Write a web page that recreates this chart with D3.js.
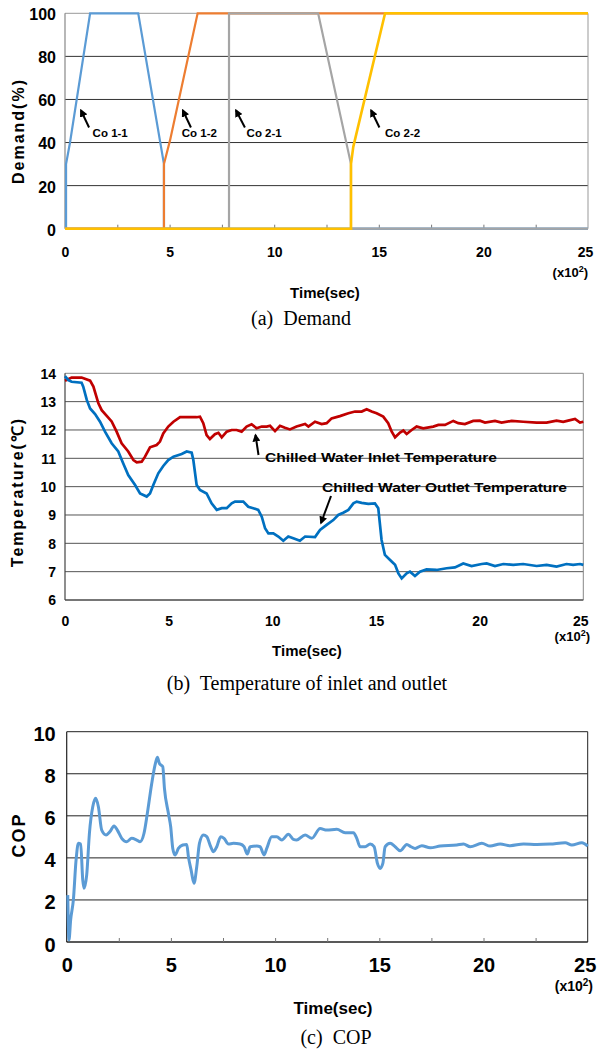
<!DOCTYPE html>
<html>
<head>
<meta charset="utf-8">
<script src="https://cdn.jsdelivr.net/npm/d3@7"></script>
<style>
body { margin: 0; background: #fff; }
.lbl { font-family: "Liberation Sans", Arial, sans-serif; font-weight: bold; fill: #000; }
.cap { font-family: "Liberation Serif", "Times New Roman", serif; fill: #000; white-space: pre; }
</style>
</head>
<body>
<div id="vis"></div>
<script>
// tick values
var timeTicks = [0, 5, 10, 15, 20, 25];
var minorTicks = [2.5, 5, 7.5, 10, 12.5, 15, 17.5, 20, 22.5];
var demandTicks = [0, 20, 40, 60, 80, 100];
var tempTicks = [6, 7, 8, 9, 10, 11, 12, 13, 14];
var copTicks = [0, 2, 4, 6, 8, 10];

// (a) demand, [time x100 s, %]
var co11 = [[0,0],[0.05,0],[0.05,30],[0.24,40],[1.2,100],[3.5,100],[4.73,30],[4.73,0],[25,0]];
var co12 = [[0,0],[4.73,0],[4.73,30],[5.02,41],[6.34,100],[25,100]];
var co21 = [[0,0],[7.84,0],[7.84,100],[12.1,100],[13.67,30],[13.67,0],[25,0]];
var co22 = [[0,0],[13.67,0],[13.67,30],[13.78,38],[15.3,100],[25,100]];
// label, arrow tail t, arrow head t, text t
var coNotes = [["Co 1-1", 1.15, 0.76, 1.32], ["Co 1-2", 6.02, 5.63, 5.58], ["Co 2-1", 8.6, 8.17, 8.68], ["Co 2-2", 15.03, 14.63, 15.3]];

// (b) temperatures, [time x100 s, degC]
var inletTemp = [[0,13.74],[0.32,13.85],[0.8,13.85],[1.21,13.74],[1.37,13.53],[1.61,12.94],[1.77,12.7],[2.25,12.3],[2.49,11.94],[2.73,11.53],[3.05,11.24],[3.3,10.94],[3.46,10.86],[3.7,10.88],[3.86,11.06],[4.1,11.39],[4.42,11.47],[4.58,11.59],[4.74,11.88],[4.98,12.12],[5.23,12.29],[5.55,12.45],[6.35,12.45],[6.51,12.47],[6.67,12.24],[6.83,11.82],[6.99,11.68],[7.23,11.85],[7.4,11.9],[7.56,11.74],[7.8,11.94],[8.04,12.0],[8.28,12.0],[8.52,11.94],[8.76,12.12],[9.0,12.2],[9.24,12.06],[9.49,12.12],[9.73,12.12],[9.89,12.15],[10.13,11.96],[10.37,12.15],[10.61,12.08],[10.85,12.02],[11.17,12.12],[11.58,12.21],[11.74,12.12],[12.06,12.29],[12.38,12.21],[12.62,12.24],[12.86,12.41],[13.26,12.49],[13.67,12.59],[13.99,12.65],[14.31,12.65],[14.55,12.73],[14.79,12.65],[15.03,12.59],[15.35,12.47],[15.59,12.24],[15.76,11.94],[15.92,11.74],[16.16,11.91],[16.32,11.98],[16.48,11.86],[16.72,12.0],[16.96,12.12],[17.28,12.06],[17.76,12.12],[18.01,12.18],[18.33,12.18],[18.73,12.32],[18.97,12.24],[19.29,12.21],[19.69,12.32],[20.01,12.33],[20.26,12.26],[20.74,12.32],[21.06,12.26],[21.54,12.32],[22.1,12.29],[22.75,12.26],[23.23,12.26],[23.71,12.33],[24.03,12.29],[24.27,12.33],[24.6,12.39],[24.84,12.26],[25,12.29]];
var outletTemp = [[0,13.9],[0.16,13.76],[0.32,13.7],[0.8,13.67],[0.88,13.53],[1.05,13.06],[1.21,12.76],[1.45,12.56],[1.69,12.29],[1.93,11.94],[2.25,11.53],[2.57,11.24],[2.81,10.82],[3.05,10.41],[3.38,10.06],[3.62,9.76],[3.94,9.65],[4.1,9.76],[4.26,10.06],[4.5,10.47],[4.74,10.73],[4.98,10.94],[5.23,11.06],[5.63,11.15],[5.87,11.24],[6.11,11.2],[6.19,10.94],[6.35,10.06],[6.51,9.88],[6.83,9.76],[7.07,9.41],[7.32,9.18],[7.56,9.24],[7.8,9.24],[8.04,9.41],[8.2,9.47],[8.6,9.47],[8.84,9.29],[9.08,9.24],[9.32,9.18],[9.49,8.94],[9.65,8.53],[9.81,8.35],[10.05,8.35],[10.29,8.24],[10.53,8.09],[10.77,8.24],[11.01,8.18],[11.33,8.09],[11.58,8.24],[12.06,8.22],[12.3,8.47],[12.62,8.65],[12.94,8.82],[13.18,9.0],[13.42,9.08],[13.67,9.18],[13.91,9.41],[14.07,9.47],[14.31,9.43],[14.63,9.39],[14.95,9.41],[15.11,9.24],[15.27,8.12],[15.43,7.59],[15.68,7.41],[15.92,7.24],[16.08,6.94],[16.24,6.76],[16.48,6.94],[16.64,7.0],[16.88,6.85],[17.12,7.0],[17.44,7.08],[17.92,7.06],[18.41,7.12],[18.81,7.15],[19.21,7.29],[19.61,7.2],[20.1,7.27],[20.34,7.29],[20.74,7.2],[21.14,7.27],[21.62,7.24],[22.1,7.27],[22.75,7.2],[23.23,7.24],[23.71,7.18],[24.19,7.27],[24.51,7.24],[24.84,7.27],[25,7.24]];

// (c) COP, [time x100 s, COP]
var cop = [[0.05,2.23],[0.11,0.1],[0.19,1.05],[0.32,2.0],[0.45,3.9],[0.56,4.69],[0.67,4.66],[0.77,2.95],[0.83,2.55],[0.96,3.19],[1.09,5.17],[1.25,6.43],[1.39,6.83],[1.52,6.43],[1.68,5.32],[1.89,5.09],[2.08,5.25],[2.27,5.52],[2.43,5.32],[2.64,4.93],[2.88,4.77],[3.12,4.93],[3.36,4.85],[3.52,4.77],[3.71,5.17],[3.87,6.12],[4.08,7.54],[4.24,8.42],[4.35,8.78],[4.45,8.49],[4.61,8.34],[4.69,7.31],[4.88,6.12],[4.99,5.48],[5.09,4.45],[5.2,4.14],[5.36,4.45],[5.57,4.61],[5.76,4.64],[5.84,4.06],[5.97,3.42],[6.11,2.79],[6.24,3.58],[6.37,4.69],[6.56,5.09],[6.72,5.01],[6.91,4.53],[7.04,4.29],[7.2,4.53],[7.39,5.01],[7.55,4.93],[7.76,4.66],[8.0,4.69],[8.32,4.66],[8.51,4.53],[8.67,4.18],[8.8,4.53],[9.12,4.56],[9.28,4.53],[9.47,4.14],[9.6,4.45],[9.84,5.01],[10.08,5.01],[10.32,4.85],[10.64,5.12],[10.88,4.88],[11.04,4.85],[11.44,5.09],[11.76,4.93],[12.16,5.4],[12.48,5.32],[12.96,5.36],[13.36,5.2],[13.76,5.2],[13.92,4.93],[14.08,4.53],[14.32,4.53],[14.56,4.66],[14.75,4.53],[14.91,3.74],[15.04,3.5],[15.17,3.74],[15.28,4.53],[15.52,4.69],[15.76,4.53],[16.0,4.34],[16.32,4.64],[16.52,4.53],[16.72,4.45],[17.04,4.58],[17.44,4.48],[17.92,4.56],[18.72,4.61],[19.04,4.66],[19.36,4.53],[19.92,4.69],[20.32,4.56],[20.8,4.66],[21.28,4.58],[21.92,4.66],[22.56,4.64],[23.2,4.66],[23.92,4.72],[24.24,4.61],[24.72,4.72],[25,4.56]];

var svg = d3.select("#vis").append("svg")
    .attr("width", 597)
    .attr("height", 1056);

svg.append("defs").append("marker")
    .attr("id", "head")
    .attr("viewBox", "0 0 10 10")
    .attr("refX", 8).attr("refY", 5)
    .attr("markerWidth", 4).attr("markerHeight", 4)
    .attr("orient", "auto")
    .append("path")
    .attr("d", "M0,0L10,5L0,10z")
    .attr("fill", "#000");

// shared panel frame: grid, axes, labels
function frame(p) {
    var x = d3.scaleLinear().domain([0, 25]).range([p.left, p.right]);
    var y = d3.scaleLinear().domain(p.yDomain).range([p.bottom, p.top]);
    var g = svg.append("g");

    // gridlines
    g.selectAll(".grid").data(p.yTicks).enter().append("line")
        .attr("x1", p.left).attr("x2", p.right)
        .attr("y1", function(d) { return y(d); })
        .attr("y2", function(d) { return y(d); })
        .attr("stroke", function(d) { return d == p.yDomain[1] ? p.topColor : p.gridColor; })
        .attr("stroke-width", 1);

    // borders
    g.append("line").attr("x1", p.right).attr("x2", p.right)
        .attr("y1", p.top).attr("y2", p.bottom)
        .attr("stroke", p.topColor);
    g.append("line").attr("x1", p.left).attr("x2", p.left)
        .attr("y1", p.top).attr("y2", p.bottom)
        .attr("stroke", p.axisColor).attr("stroke-width", 1.2);
    g.append("line").attr("x1", p.left).attr("x2", p.right)
        .attr("y1", p.bottom).attr("y2", p.bottom)
        .attr("stroke", p.axisColor).attr("stroke-width", 1.2);

    if (p.minor) {
        var mt = g.append("g")
            .attr("transform", "translate(0," + p.bottom + ")")
            .call(d3.axisBottom(x).tickValues(minorTicks).tickSize(-4).tickFormat(""));
        mt.select(".domain").remove();
        mt.selectAll("line").attr("stroke", "#777");
    }

    var ya = g.append("g")
        .attr("transform", "translate(" + p.left + ",0)")
        .call(d3.axisLeft(y).tickValues(p.yTicks).tickSize(0).tickPadding(p.yPad));
    ya.select(".domain").remove();
    ya.selectAll("text").attr("class", "lbl")
        .attr("font-family", null)
        .attr("dy", p.yDy)
        .style("font-size", p.yFont + "px");

    var xa = g.append("g")
        .attr("transform", "translate(0," + p.bottom + ")")
        .call(d3.axisBottom(x).tickValues(timeTicks).tickSize(0).tickPadding(p.xPad));
    xa.select(".domain").remove();
    xa.selectAll("text").attr("class", "lbl")
        .attr("font-family", null)
        .attr("dx", function(d) { return d == 25 ? -3 : 0; })
        .style("font-size", p.xFont + "px");

    var unit = g.append("text").attr("class", "lbl")
        .attr("x", p.unitX).attr("y", p.unitY)
        .attr("text-anchor", "end")
        .style("font-size", p.unitFont + "px");
    unit.append("tspan").text("(x10");
    unit.append("tspan").attr("dy", -5).style("font-size", (p.unitFont - 4) + "px").text("2");
    unit.append("tspan").attr("dy", 5).text(")");

    g.append("text").attr("class", "lbl")
        .attr("x", p.titleX).attr("y", p.titleY)
        .attr("text-anchor", "middle")
        .style("font-size", p.titleFont + "px")
        .text("Time(sec)");

    g.append("text").attr("class", "lbl")
        .attr("transform", "translate(" + p.yLabX + "," + p.yLabY + ") rotate(-90)")
        .attr("text-anchor", "middle")
        .style("font-size", p.yLabFont + "px")
        .style("letter-spacing", "2px")
        .text(p.yLabel);

    g.append("text").attr("class", "cap")
        .attr("x", p.capX).attr("y", p.capY)
        .attr("text-anchor", "middle")
        .style("font-size", "20px")
        .text(p.caption);

    return {x: x, y: y, g: g};
}

function arrow(g, x1, y1, x2, y2) {
    g.append("line")
        .attr("x1", x1).attr("y1", y1).attr("x2", x2).attr("y2", y2)
        .attr("stroke", "#000").attr("stroke-width", 2)
        .attr("marker-end", "url(#head)");
}

// ---- (a) Demand ----
var pa = frame({
    left: 65, right: 588, top: 13.3, bottom: 228.7,
    yDomain: [0, 100], yTicks: demandTicks,
    gridColor: "#333", topColor: "#999", axisColor: "#888", minor: true,
    yPad: 9, yFont: 16, yDy: "0.4em", xPad: 18, xFont: 14,
    unitX: 588, unitY: 277, unitFont: 13, titleX: 325, titleY: 298, titleFont: 15,
    yLabel: "Demand(%)", yLabX: 24, yLabY: 131, yLabFont: 16,
    caption: "(a)  Demand", capX: 301, capY: 325
});
var lineA = d3.line()
    .x(function(d) { return pa.x(d[0]); })
    .y(function(d) { return pa.y(d[1]); });
[[co11, "#5B9BD5"], [co12, "#ED7D31"], [co21, "#A5A5A5"], [co22, "#FFC000"]].forEach(function(s) {
    pa.g.append("path")
        .datum(s[0])
        .attr("fill", "none")
        .attr("stroke", s[1])
        .attr("stroke-width", s[1] == "#FFC000" ? 2.6 : 2.2)
        .attr("d", lineA);
});
coNotes.forEach(function(n) {
    arrow(pa.g, pa.x(n[1]), pa.y(47), pa.x(n[2]), pa.y(55));
    pa.g.append("text").attr("class", "lbl")
        .attr("x", pa.x(n[3])).attr("y", pa.y(42.5))
        .style("font-size", "11.5px")
        .text(n[0]);
});

// ---- (b) Temperature ----
var pb = frame({
    left: 65, right: 583.3, top: 373.3, bottom: 600,
    yDomain: [6, 14], yTicks: tempTicks,
    gridColor: "#555", topColor: "#888", axisColor: "#444", minor: false,
    yPad: 9, yFont: 14, yDy: "0.35em", xPad: 16, xFont: 14,
    unitX: 590, unitY: 641, unitFont: 13, titleX: 307, titleY: 656, titleFont: 15,
    yLabel: "Temperature(\u2103)", yLabX: 23, yLabY: 492, yLabFont: 16,
    caption: "(b)  Temperature of inlet and outlet", capX: 307, capY: 690
});
var lineB = d3.line()
    .x(function(d) { return pb.x(d[0]); })
    .y(function(d) { return pb.y(d[1]); });
pb.g.append("text").attr("class", "lbl")
    .attr("x", 265).attr("y", 462)
    .attr("textLength", 232).attr("lengthAdjust", "spacingAndGlyphs")
    .style("font-size", "13px")
    .text("Chilled Water Inlet Temperature");
pb.g.append("text").attr("class", "lbl")
    .attr("x", 322).attr("y", 492)
    .attr("textLength", 245).attr("lengthAdjust", "spacingAndGlyphs")
    .style("font-size", "13px")
    .text("Chilled Water Outlet Temperature");
arrow(pb.g, 258.5, 455, 255.5, 435);
arrow(pb.g, 331, 496, 321, 523);
pb.g.append("path").datum(inletTemp)
    .attr("fill", "none").attr("stroke", "#C00000").attr("stroke-width", 2.7)
    .attr("d", lineB);
pb.g.append("path").datum(outletTemp)
    .attr("fill", "none").attr("stroke", "#0070C0").attr("stroke-width", 2.7)
    .attr("d", lineB);

// ---- (c) COP ----
var pc = frame({
    left: 66.7, right: 587.7, top: 731.7, bottom: 942,
    yDomain: [0, 10], yTicks: copTicks,
    gridColor: "#222", topColor: "#222", axisColor: "#222", minor: true,
    yPad: 11, yFont: 20, yDy: "0.45em", xPad: 16, xFont: 20,
    unitX: 593, unitY: 991, unitFont: 14, titleX: 333, titleY: 1014, titleFont: 17,
    yLabel: "COP", yLabX: 25, yLabY: 835, yLabFont: 18,
    caption: "(c)  COP", capX: 336, capY: 1044
});
var lineC = d3.line()
    .curve(d3.curveMonotoneX)
    .x(function(d) { return pc.x(d[0]); })
    .y(function(d) { return pc.y(d[1]); });
pc.g.append("path").datum(cop)
    .attr("fill", "none").attr("stroke", "#5B9BD5").attr("stroke-width", 3)
    .attr("d", lineC);
</script>
</body>
</html>
